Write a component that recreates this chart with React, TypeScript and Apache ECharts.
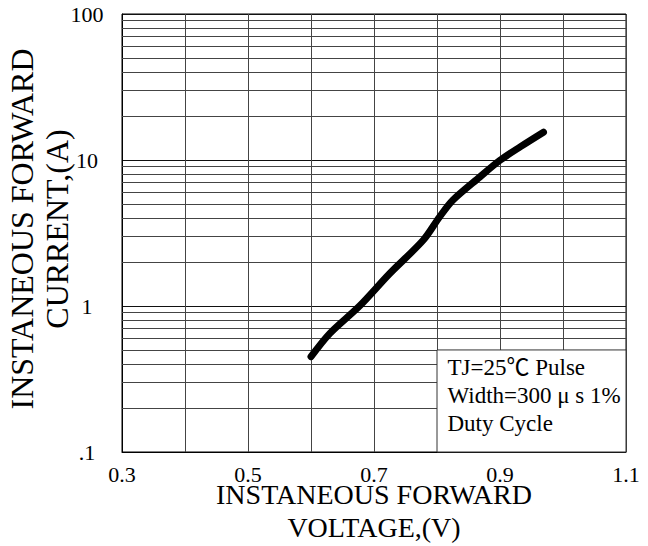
import React, { useEffect, useRef } from "react";
import * as echarts from "echarts";

const voltage = [0.6, 0.63, 0.677, 0.725, 0.778, 0.804, 0.825, 0.868, 0.9, 0.932, 0.969];
const current = [0.45, 0.65, 1.0, 1.67, 2.82, 4.07, 5.3, 7.65, 9.95, 12.3, 15.5];
const minorGrid = [
  0.2, 0.3, 0.4, 0.5, 0.6, 0.7, 0.8, 0.9,
  2, 3, 4, 5, 6, 7, 8, 9,
  20, 30, 40, 50, 60, 70, 80, 90,
];
const noteText = "TJ=25℃ Pulse\nWidth=300 μ s 1%\nDuty Cycle";
const FONT = "'Liberation Serif', 'Times New Roman', 'Noto Sans CJK SC', serif";

export default function App() {
  const ref = useRef<HTMLDivElement>(null);
  useEffect(() => {
    if (!ref.current) return;
    const chart = echarts.init(ref.current, null, { renderer: "svg" });
    const pts = voltage.map((v, i) => [v, current[i]]);
    chart.setOption({
      animation: false,
      backgroundColor: "#fff",
      grid: {
        left: 122,
        right: 22,
        top: 14,
        bottom: 94,
        containLabel: false,
        outerBoundsMode: "none",
        show: true,
        borderColor: "#000",
        borderWidth: 1,
        backgroundColor: "transparent",
      },
      xAxis: {
        type: "value",
        min: 0.3,
        max: 1.1,
        interval: 0.1,
        name: "INSTANEOUS FORWARD\nVOLTAGE,(V)",
        nameLocation: "middle",
        nameGap: 26,
        nameMoveOverlap: false,
        nameTextStyle: {
          fontFamily: FONT,
          fontSize: 28,
          lineHeight: 33,
          color: "#000",
          verticalAlign: "top",
        },
        axisLine: { show: true, lineStyle: { color: "#000", width: 1 } },
        axisTick: { show: false },
        axisLabel: {
          margin: 11,
          fontFamily: FONT,
          fontSize: 22,
          color: "#000",
          showMinLabel: true,
          showMaxLabel: true,
          formatter: (v: number) => {
            const k = Math.round(v * 10);
            return k % 2 === 1 ? (k / 10).toFixed(1) : "";
          },
        },
        splitLine: { show: true, lineStyle: { color: "#444", width: 1 } },
      },
      yAxis: {
        type: "log",
        logBase: 10,
        min: 0.1,
        max: 100,
        name: "INSTANEOUS FORWARD\nCURRENT,(A)",
        nameLocation: "middle",
        nameRotate: 90,
        nameGap: 48,
        nameMoveOverlap: false,
        nameTextStyle: {
          fontFamily: FONT,
          fontSize: 32,
          lineHeight: 35,
          color: "#000",
          padding: [0, 0, 0, 8],
        },
        axisLine: { show: true, lineStyle: { color: "#000", width: 1 } },
        axisTick: { show: false },
        axisLabel: {
          margin: 35,
          align: "center",
          fontFamily: FONT,
          fontSize: 22,
          color: "#000",
          formatter: (v: number) => (v < 0.5 ? ".1" : String(Math.round(v))),
        },
        splitLine: { show: true, lineStyle: { color: "#111", width: 1 } },
      },
      series: [
        {
          type: "line",
          data: [],
          silent: true,
          markLine: {
            silent: true,
            z: 1,
            symbol: ["none", "none"],
            label: { show: false },
            emphasis: { disabled: true },
            lineStyle: { color: "#444", width: 1, type: "solid" },
            data: minorGrid.map((v) => ({ yAxis: v })),
          },
        },
        {
          type: "line",
          data: [],
          silent: true,
          markArea: {
            silent: true,
            z: 10,
            itemStyle: { color: "#fff", borderColor: "#333", borderWidth: 1 },
            label: {
              show: true,
              position: "insideTopLeft",
              distance: 0,
              padding: [4, 0, 0, 11],
              fontFamily: FONT,
              fontSize: 23,
              lineHeight: 28,
              color: "#000",
              formatter: noteText,
            },
            emphasis: { disabled: true },
            data: [[{ xAxis: 0.8, yAxis: 0.1 }, { xAxis: 1.1, yAxis: 0.5 }]],
          },
        },
        {
          type: "line",
          data: pts,
          smooth: 0.3,
          symbol: "none",
          z: 5,
          lineStyle: { color: "#000", width: 7, cap: "round", join: "round" },
        },
      ],
    });
    return () => chart.dispose();
  }, []);
  return (
    <div
      ref={ref}
      style={{ position: "fixed", left: 0, top: 0, width: 648, height: 546 }}
    />
  );
}
